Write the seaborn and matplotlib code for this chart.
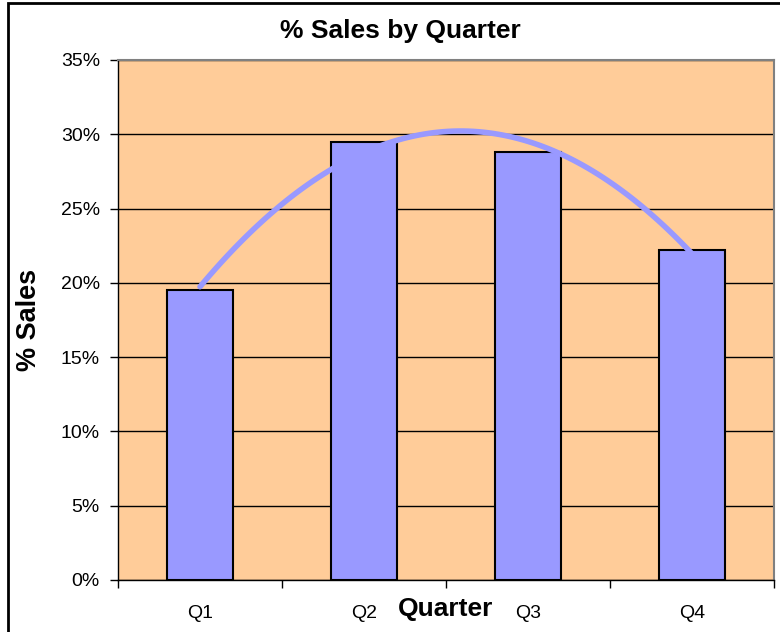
import pandas as pd
import matplotlib.pyplot as plt
import seaborn as sns
from matplotlib.patches import Rectangle
from matplotlib.ticker import FuncFormatter, MultipleLocator, FixedLocator

# Data (percent of sales)
quarters = ["Q1", "Q2", "Q3", "Q4"]
pct_sales = [19.5, 29.5, 28.8, 22.2]

sns.set_theme(style="white")
plt.rcParams["font.family"] = ["Liberation Sans", "DejaVu Sans"]
plt.rcParams["text.color"] = "black"
plt.rcParams["axes.labelcolor"] = "black"

df = pd.DataFrame({"quarter": quarters, "pct": pct_sales, "pos": range(len(quarters))})

fig = plt.figure(figsize=(7.8, 6.32), dpi=100)
ax = fig.add_axes([118 / 780, 52 / 632, 656 / 780, 520 / 632])
ax.set_facecolor("#FFCC99")

# Excel-like chart border
fig.patches.append(Rectangle((8 / 780, -0.05), 1.05, 1 - 3 / 632 + 0.05,
                             transform=fig.transFigure, fill=False,
                             edgecolor="black", linewidth=2))

sns.barplot(data=df, x="quarter", y="pct", order=quarters, color="#9999FF",
            saturation=1, width=0.4, edgecolor="black", linewidth=1.5, ax=ax)

# 2nd order polynomial trendline
sns.regplot(data=df, x="pos", y="pct", order=2, ci=None, scatter=False,
            line_kws={"color": "#9999FF", "linewidth": 4}, ax=ax)

ax.set_xlim(-0.5, 3.5)
ax.set_ylim(0, 35)
ax.yaxis.set_major_locator(MultipleLocator(5))
ax.yaxis.set_major_formatter(FuncFormatter(lambda v, _: f"{v:.0f}%"))
ax.set_axisbelow(True)
ax.grid(axis="y", color="black", linewidth=1)
ax.grid(axis="x", visible=False)

ax.xaxis.set_minor_locator(FixedLocator([-0.5, 0.5, 1.5, 2.5, 3.5]))
ax.tick_params(axis="x", which="major", length=0, labelsize=14, pad=18, colors="black")
ax.tick_params(axis="x", which="minor", bottom=True, length=6, width=1, color="black")
ax.tick_params(axis="y", left=True, length=6, width=1, labelsize=14, colors="black", pad=7)

for side in ["left", "bottom"]:
    ax.spines[side].set_color("black")
    ax.spines[side].set_linewidth(1)
for side in ["top", "right"]:
    ax.spines[side].set_color("#808080")
    ax.spines[side].set_linewidth(1.5)

ax.set_xlabel("Quarter", fontsize=19, fontweight="bold")
ax.set_ylabel("% Sales", fontsize=19.5, fontweight="bold")
ax.xaxis.set_label_coords(0.5, -0.033)
ax.yaxis.set_label_coords(-0.135, 0.5)
ax.yaxis.label.set_va("center")

fig.text(400 / 780, 1 - 31 / 632, "% Sales by Quarter", ha="center", va="center",
         fontsize=19, fontweight="bold")

fig.savefig("out.png", dpi=100, facecolor="white")
